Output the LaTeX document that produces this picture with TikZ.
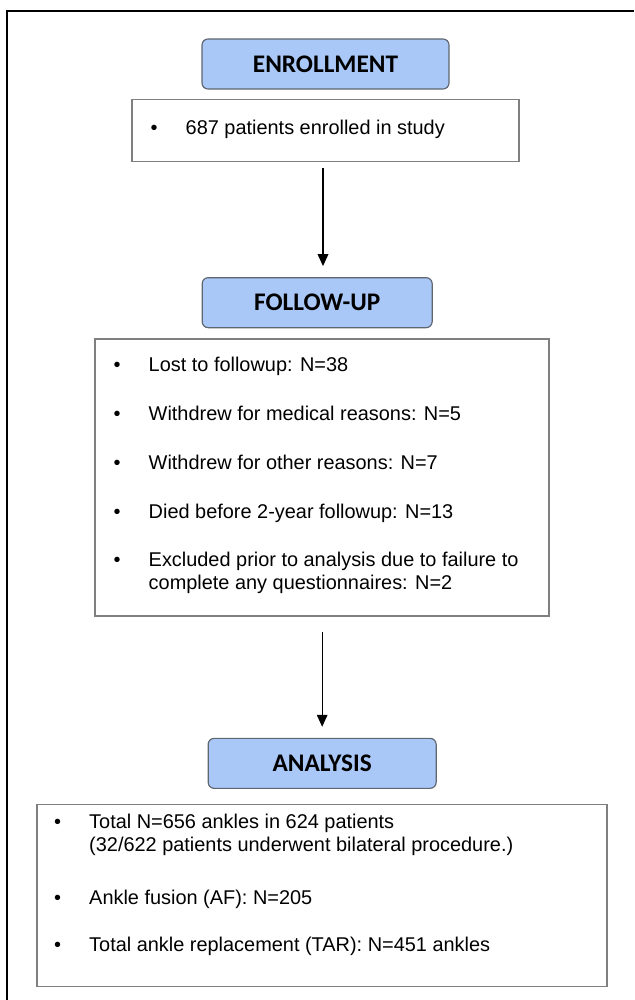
\documentclass[tikz,border=0pt]{standalone}
\usepackage{fontspec}
\setmainfont{Liberation Sans}
\newfontfamily\headfont{Carlito}
\usetikzlibrary{arrows.meta,positioning}

\definecolor{headblue}{HTML}{A9C7F7}
\definecolor{headline}{HTML}{5F6670}
\definecolor{boxline}{HTML}{7F7F7F}

\newcommand{\bul}{\makebox[10.5mm][l]{•}}

\begin{document}
\begin{tikzpicture}[
  x=0.3mm, y=-0.3mm,
  font=\fontsize{17pt}{19.6pt}\selectfont,
  head/.style={draw=headline, fill=headblue, rounded corners=1.8mm, line width=0.35mm, minimum height=15mm, font=\headfont\bfseries\fontsize{21.6pt}{24pt}\selectfont},
  panel/.style={draw=boxline, line width=0.45mm, inner sep=0pt},
  item/.style={anchor=base west, inner sep=0pt, align=left},
  arrow/.style={-{Triangle[length=3.6mm,width=3.2mm]}, line width=0.38mm}
]
  \useasboundingbox (0,0) rectangle (634,1000);
  \draw[line width=0.4mm] (7,1000) -- (7,11) -- (634,11);

  % enrollment
  \node[head, minimum width=74.1mm] (enroll) at (325.5,64) {ENROLLMENT};
  \node[panel, minimum width=116.1mm, minimum height=18.6mm, below=2.7mm of enroll] (ebox) {};
  \node[item] (e1) at (150.5,134) {\bul 687 patients enrolled in study};

  % follow-up
  \node[head, minimum width=69mm, below=34.5mm of ebox, xshift=-2.5mm] (follow) {FOLLOW-UP};
  \node[panel, minimum width=136.2mm, minimum height=83.1mm, below=3mm of follow, xshift=1.5mm] (fbox) {};
  \node[item] (f1) at (113.5,371) {\bul Lost to followup: N=38};
  \node[item] (f2) at (113.5,420) {\bul Withdrew for medical reasons: N=5};
  \node[item] (f3) at (113.5,469) {\bul Withdrew for other reasons: N=7};
  \node[item] (f4) at (113.5,518) {\bul Died before 2-year followup: N=13};
  \node[item] (f5) at (113.5,589) {\bul Excluded prior to analysis due to failure to\\\hspace*{10.5mm}complete any questionnaires: N=2};

  % analysis
  \node[head, minimum width=68.4mm, below=36.3mm of fbox] (analysis) {ANALYSIS};
  \node[panel, minimum width=171mm, minimum height=54.6mm, below=4.5mm of analysis] (abox) {};
  \node[item] (a1) at (54,851) {\bul Total N=656 ankles in 624 patients\\\hspace*{10.5mm}(32/622 patients underwent bilateral procedure.)};
  \node[item] (a2) at (54,904) {\bul Ankle fusion (AF): N=205};
  \node[item] (a3) at (54,951) {\bul Total ankle replacement (TAR): N=451 ankles};

  \draw[arrow, shorten <=1.8mm, shorten >=3.3mm] ([xshift=-0.75mm]ebox.south) -- ([xshift=-0.75mm]ebox.south |- follow.north);
  \draw[arrow, shorten <=4.5mm, shorten >=3.3mm] (fbox.south) -- (analysis.north);
\end{tikzpicture}
\end{document}
